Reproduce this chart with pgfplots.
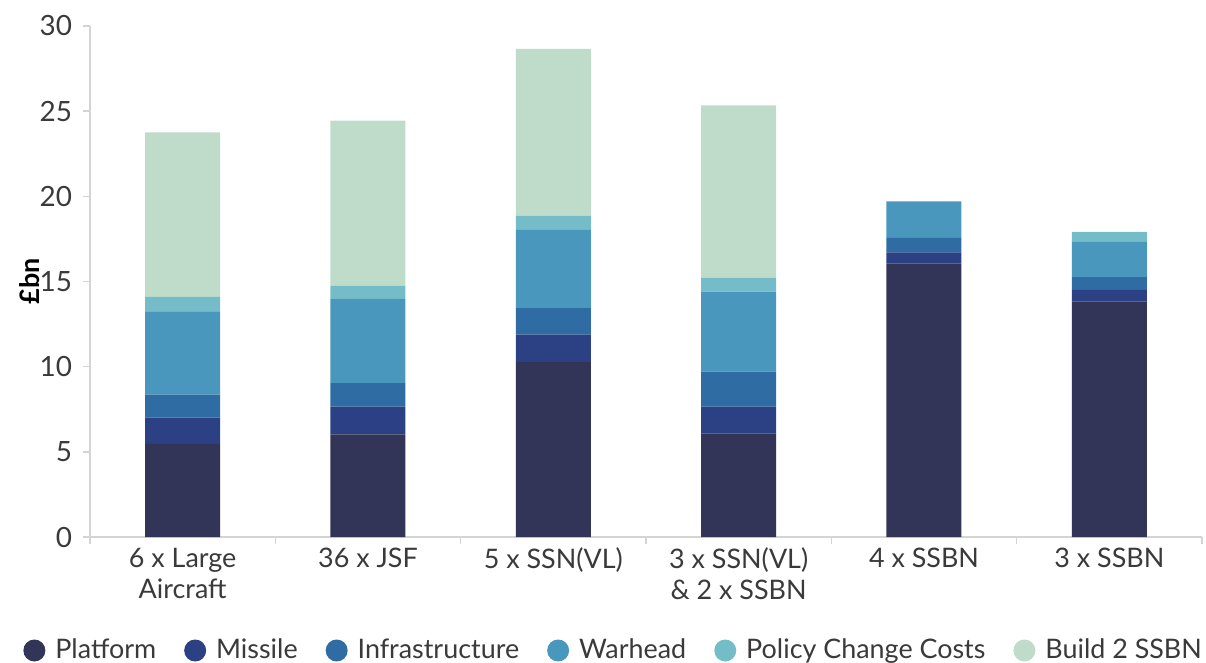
\documentclass[border=0pt]{standalone}
\usepackage{pgfplots}
\pgfplotsset{compat=1.18}
\usepackage{pgfplotstable}
\usepackage{fontspec}
\setmainfont{Lato}

\definecolor{cplat}{HTML}{323558}
\definecolor{cmiss}{HTML}{2B4184}
\definecolor{cinfra}{HTML}{2E6CA3}
\definecolor{cwar}{HTML}{4A97BE}
\definecolor{cpol}{HTML}{74BDC8}
\definecolor{cbuild}{HTML}{BFDCCB}
\definecolor{axgray}{HTML}{D4D4D4}
\definecolor{txt}{HTML}{3A3A3A}

% costs in £bn, one row per option
\pgfplotstableread{
x plat miss infra war pol build
0 5.47 1.54 1.35 4.86 0.88 9.66
1 6.03 1.63 1.37 4.95 0.78 9.68
2 10.26 1.62 1.55 4.60 0.84 9.78
3 6.09 1.57 2.05 4.70 0.82 10.11
4 16.07 0.64 0.85 2.15 0 0
5 13.84 0.67 0.74 2.07 0.59 0
}\costs

\begin{document}
\begin{tikzpicture}
\begin{axis}[
    scale only axis,
    width=556bp, height=255.5bp,
    ybar stacked,
    bar width=37.5bp,
    xmin=-0.5, xmax=5.5,
    ymin=0, ymax=30,
    ytick={0,5,...,30},
    xtick={-0.5,0.5,...,5.5},
    xticklabels={},
    extra x ticks={0,1,2,3,4,5},
    extra x tick labels={6 x Large\\Aircraft, 36 x JSF, 5 x SSN(VL), 3 x SSN(VL)\\\& 2 x SSBN, 4 x SSBN, 3 x SSBN},
    extra x tick style={major tick length=0pt},
    xticklabel style={align=center, font=\fontsize{13.5}{15.5}\selectfont, text=txt, yshift=-2bp},
    yticklabel style={font=\fontsize{14}{16}\selectfont, text=txt, xshift=-2bp},
    /pgf/number format/assume math mode=true,
    axis x line=bottom, axis y line=left,
    axis line style={draw=axgray, line width=0.8bp, -},
    tick style={draw=axgray, line width=0.8bp},
    tick align=outside,
    major tick length=3.5bp,
    ylabel={\textbf{£bn}},
    ylabel style={at={(axis description cs:0,0.5)}, anchor=center, yshift=30bp, font=\fontsize{13.5}{15}\selectfont, text=black},
    legend columns=6,
    legend style={draw=none, fill=none, at={(-36.5bp,-56.75bp)}, anchor=west,
        font=\fontsize{13.5}{15}\selectfont, text=txt,
        /tikz/every odd column/.append style={column sep=3bp},
        /tikz/every even column/.append style={column sep=12bp}},
    legend image code/.code={\fill[#1] (5.5bp,0bp) circle (5.5bp);},
    every axis plot/.append style={draw=none},
]
\addplot[fill=cplat] table[x=x, y=plat] {\costs};
\addlegendentry{Platform}
\addplot[fill=cmiss] table[x=x, y=miss] {\costs};
\addlegendentry{Missile}
\addplot[fill=cinfra] table[x=x, y=infra] {\costs};
\addlegendentry{Infrastructure}
\addplot[fill=cwar] table[x=x, y=war] {\costs};
\addlegendentry{Warhead}
\addplot[fill=cpol] table[x=x, y=pol] {\costs};
\addlegendentry{Policy Change Costs}
\addplot[fill=cbuild] table[x=x, y=build] {\costs};
\addlegendentry{Build 2 SSBN}
\end{axis}
\pgfresetboundingbox
\path[use as bounding box] (-45bp,-63bp) rectangle (558bp,268.5bp);
\end{tikzpicture}
\end{document}
